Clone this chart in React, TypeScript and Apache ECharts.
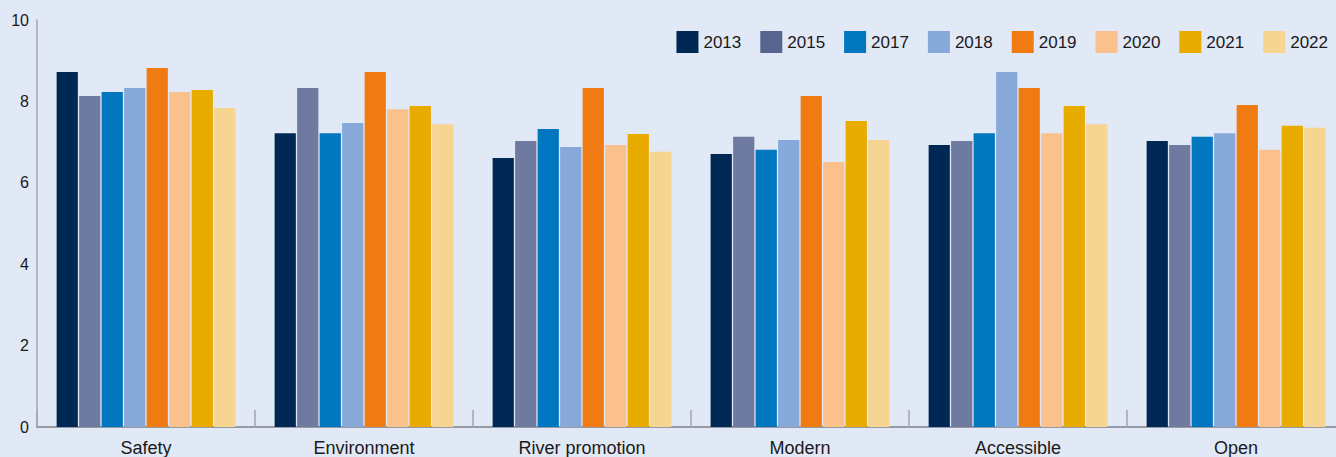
import React, { useEffect, useRef } from "react";
import * as echarts from "echarts";

const categories = ["Safety", "Environment", "River promotion", "Modern", "Accessible", "Open"];
const years = ["2013", "2015", "2017", "2018", "2019", "2020", "2021", "2022"];
const v2013 = [8.72, 7.22, 6.61, 6.71, 6.93, 7.03];
const v2015 = [8.13, 8.33, 7.03, 7.13, 7.03, 6.93];
const v2017 = [8.23, 7.22, 7.32, 6.81, 7.22, 7.13];
const v2018 = [8.33, 7.47, 6.88, 7.05, 8.72, 7.22];
const v2019 = [8.82, 8.72, 8.33, 8.13, 8.33, 7.91];
const v2020 = [8.23, 7.81, 6.93, 6.51, 7.22, 6.81];
const v2021 = [8.28, 7.89, 7.2, 7.52, 7.89, 7.4];
const v2022 = [7.84, 7.44, 6.76, 7.05, 7.44, 7.35];
const yTicks = [0, 2, 4, 6, 8, 10];

const seriesValues = [v2013, v2015, v2017, v2018, v2019, v2020, v2021, v2022];
const barColors = ["#002855", "#6E7AA0", "#0077BE", "#86A9DA", "#F07B12", "#FAC18D", "#E8AB00", "#F6D492"];
const legendColors = ["#002855", "#56658F", "#0077BE", "#86A9DA", "#F07B12", "#FAC18D", "#E8AB00", "#F6D492"];

const FONT = "Liberation Sans";

export default function App() {
  const ref = useRef<HTMLDivElement>(null);
  useEffect(() => {
    document.body.style.margin = "0";
    const chart = echarts.init(ref.current!, null, { renderer: "svg" });
    chart.setOption({
      animation: false,
      backgroundColor: "#E1E8F6",
      textStyle: { fontFamily: FONT, color: "#1A1A1A" },
      legend: {
        right: 17,
        top: 31,
        padding: 0,
        itemWidth: 22,
        itemHeight: 22,
        itemGap: 19,
        icon: "rect",
        textStyle: { fontSize: 17, color: "#1A1A1A", fontFamily: FONT },
        data: years.map((y, i) => ({ name: y, itemStyle: { color: legendColors[i] } })),
      },
      grid: { left: 37, top: 20, right: 0, height: 407, containLabel: false },
      xAxis: {
        type: "category",
        data: categories,
        axisLine: { show: true, lineStyle: { color: "#7D8088", width: 1.5 } },
        axisTick: { show: true, inside: true, length: 17, lineStyle: { color: "#A3A6AE", width: 1.5 } },
        axisLabel: { fontSize: 18, color: "#1A1A1A", margin: 12, fontFamily: FONT },
      },
      yAxis: {
        type: "value",
        min: 0,
        max: 10,
        interval: 2,
        splitLine: { show: false },
        axisLine: { show: true, lineStyle: { color: "#A3A6AE", width: 1.5 } },
        axisTick: { show: false },
        axisLabel: {
          fontSize: 16,
          color: "#1A1A1A",
          margin: 8,
          padding: [8, 0, 0, 0],
          fontFamily: FONT,
          formatter: (v: number) => (yTicks.includes(v) ? String(v) : ""),
        },
      },
      series: years.map((y, i) => ({
        name: y,
        type: "bar",
        data: seriesValues[i],
        itemStyle: { color: barColors[i] },
        barGap: "6%",
        barCategoryGap: "18%",
      })),
    });
    return () => chart.dispose();
  }, []);
  return (
    <div style={{ width: 1336, height: 457, overflow: "hidden" }}>
      <div ref={ref} style={{ width: 1345, height: 457 }} />
    </div>
  );
}
